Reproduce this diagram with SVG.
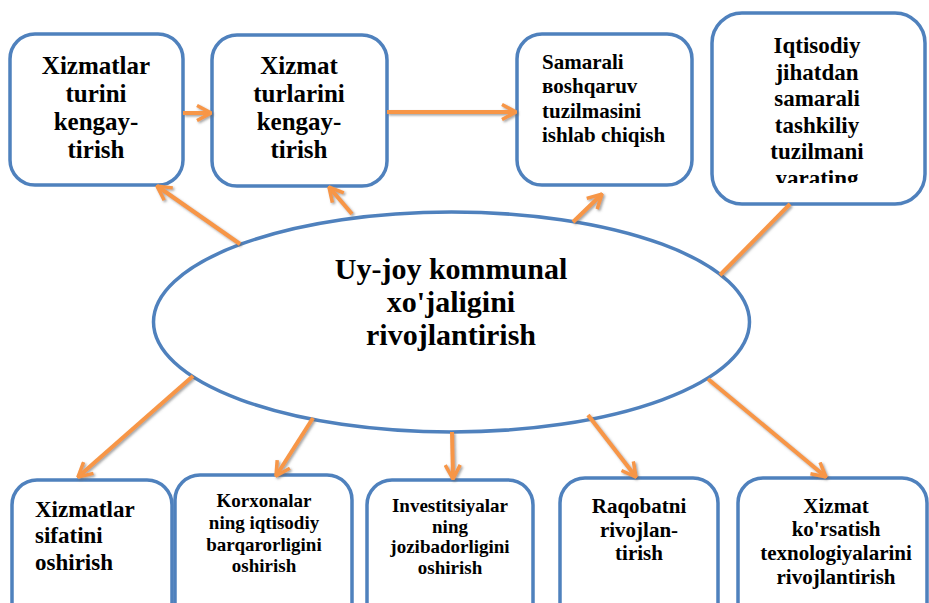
<svg xmlns="http://www.w3.org/2000/svg" width="929" height="603" viewBox="0 0 929 603">
<style>
.box{fill:#fff;stroke:#4F81BD;stroke-width:3.5}
.t{font-family:'Liberation Serif','DejaVu Serif','Times New Roman',serif;font-weight:700;fill:#000}
.c{text-anchor:middle}
.ln{stroke:#F79646;stroke-width:4;fill:none;stroke-linecap:butt}
</style>
<defs>
<marker id="ah" viewBox="0 0 16 18" refX="15" refY="9" markerWidth="16" markerHeight="18" markerUnits="userSpaceOnUse" orient="auto">
<path d="M1,1.5 L15,9 L1,16.5" fill="none" stroke="#F79646" stroke-width="3.5"/>
</marker>
<filter id="sh" x="-10%" y="-10%" width="120%" height="120%">
<feDropShadow dx="1.5" dy="1.5" stdDeviation="0.8" flood-color="#666" flood-opacity="0.6"/>
</filter>
<clipPath id="c4"><rect x="712" y="12" width="213" height="171"/></clipPath>
</defs>
<rect width="929" height="603" fill="#fff"/>

<g id="center">
<ellipse cx="451.5" cy="322" rx="298" ry="110" fill="#fff" stroke="#4F81BD" stroke-width="3.5"/>
<text class="t c" font-family="Liberation Serif, DejaVu Serif, serif" font-size="30"><tspan x="451" y="279">Uy-joy kommunal</tspan><tspan x="451" y="312">xo'jaligini</tspan><tspan x="451" y="345">rivojlantirish</tspan></text>
</g>

<g id="n1">
<rect class="box" x="10" y="34" width="173" height="151" rx="25"/>
<text class="t c" font-family="Liberation Serif, DejaVu Serif, serif" font-size="25"><tspan x="96" y="74">Xizmatlar</tspan><tspan x="96" y="102">turini</tspan><tspan x="96" y="130">kengay-</tspan><tspan x="96" y="158">tirish</tspan></text>
</g>
<g id="n2">
<rect class="box" x="212" y="35" width="175" height="151" rx="25"/>
<text class="t c" font-family="Liberation Serif, DejaVu Serif, serif" font-size="25"><tspan x="299" y="74">Xizmat</tspan><tspan x="299" y="102">turlarini</tspan><tspan x="299" y="130">kengay-</tspan><tspan x="299" y="158">tirish</tspan></text>
</g>
<g id="n3">
<rect class="box" x="517" y="34" width="175" height="151" rx="25"/>
<text class="t" font-family="Liberation Serif, DejaVu Serif, serif" font-size="21"><tspan x="542" y="69">Samarali</tspan><tspan x="542" y="93">вoshqaruv</tspan><tspan x="542" y="118">tuzilmasini</tspan><tspan x="542" y="142">ishlab chiqish</tspan></text>
</g>
<g id="n4">
<rect class="box" x="712" y="13" width="213" height="191" rx="30"/>
<text class="t c" font-family="Liberation Serif, DejaVu Serif, serif" font-size="23" clip-path="url(#c4)"><tspan x="817" y="53">Iqtisodiy</tspan><tspan x="817" y="79.5">jihatdan</tspan><tspan x="817" y="106">samarali</tspan><tspan x="817" y="132.5">tashkiliy</tspan><tspan x="817" y="159">tuzilmani</tspan><tspan x="817" y="185.5">yarating</tspan></text>
</g>

<g id="n5">
<rect class="box" x="12" y="480" width="160" height="160" rx="25"/>
<text class="t" font-family="Liberation Serif, DejaVu Serif, serif" font-size="23"><tspan x="35" y="517">Xizmatlar</tspan><tspan x="35" y="543">sifatini</tspan><tspan x="35" y="570">oshirish</tspan></text>
</g>
<g id="n6">
<rect class="box" x="175" y="475" width="177" height="165" rx="25"/>
<text class="t c" font-family="Liberation Serif, DejaVu Serif, serif" font-size="19"><tspan x="264" y="507">Korxonalar</tspan><tspan x="264" y="529">ning iqtisodiy</tspan><tspan x="264" y="551">barqarorligini</tspan><tspan x="264" y="572">oshirish</tspan></text>
</g>
<g id="n7">
<rect class="box" x="367" y="480" width="166" height="160" rx="25"/>
<text class="t c" font-family="Liberation Serif, DejaVu Serif, serif" font-size="19"><tspan x="450" y="512">Investitsiyalar</tspan><tspan x="450" y="533">ning</tspan><tspan x="450" y="553">jozibadorligini</tspan><tspan x="450" y="574">oshirish</tspan></text>
</g>
<g id="n8">
<rect class="box" x="560" y="478" width="158" height="162" rx="25"/>
<text class="t c" font-family="Liberation Serif, DejaVu Serif, serif" font-size="21"><tspan x="639" y="513">Raqobatni</tspan><tspan x="639" y="537">rivojlan-</tspan><tspan x="639" y="560">tirish</tspan></text>
</g>
<g id="n9">
<rect class="box" x="738" y="478" width="189" height="162" rx="25"/>
<text class="t c" font-family="Liberation Serif, DejaVu Serif, serif" font-size="21"><tspan x="836" y="513">Xizmat</tspan><tspan x="836" y="536">ko'rsatish</tspan><tspan x="836" y="560">texnologiyalarini</tspan><tspan x="836" y="584">rivojlantirish</tspan></text>
</g>

<g id="connectors" filter="url(#sh)">
<line class="ln" x1="183" y1="113" x2="211" y2="113" marker-end="url(#ah)"/>
<line class="ln" x1="387" y1="112" x2="516" y2="112" marker-end="url(#ah)"/>
<line class="ln" x1="240" y1="244" x2="157" y2="186" marker-end="url(#ah)"/>
<line class="ln" x1="352" y1="214" x2="329" y2="187" marker-end="url(#ah)"/>
<line class="ln" x1="573" y1="222" x2="602" y2="194" marker-end="url(#ah)"/>
<line class="ln" x1="720" y1="275" x2="790" y2="204"/>
<line class="ln" x1="193" y1="376" x2="78" y2="477" marker-end="url(#ah)"/>
<line class="ln" x1="313" y1="418" x2="276" y2="476" marker-end="url(#ah)"/>
<line class="ln" x1="452" y1="432" x2="453" y2="479" marker-end="url(#ah)"/>
<line class="ln" x1="588" y1="415" x2="636" y2="477" marker-end="url(#ah)"/>
<line class="ln" x1="708" y1="379" x2="826" y2="477" marker-end="url(#ah)"/>
</g>
</svg>
